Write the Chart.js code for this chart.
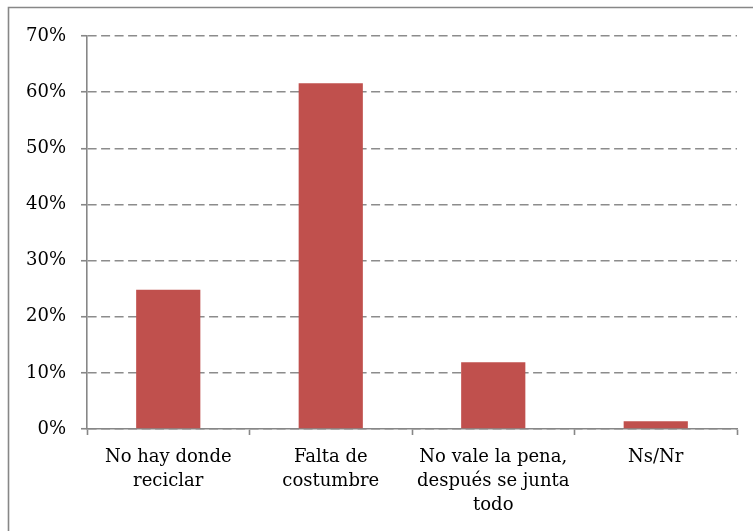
<!DOCTYPE html>
<html>
<head>
<meta charset="utf-8">
<script src="https://cdn.jsdelivr.net/npm/chart.js@4/dist/chart.umd.min.js"></script>
<style>
html,body{margin:0;padding:0;background:#fff;}
canvas{display:block;}
</style>
</head>
<body>
<canvas id="c" width="753" height="531"></canvas>
<script>
const categories = [
  ["No hay donde", "reciclar"],
  ["Falta de", "costumbre"],
  ["No vale la pena,", "después se junta", "todo"],
  ["Ns/Nr"]
];
const values = [24.8, 61.6, 11.9, 1.4];
const yTicks = [0, 10, 20, 30, 40, 50, 60, 70];

const FONT = "'DejaVu Serif', serif";

const frame = {
  id: 'frame',
  beforeDraw(chart) {
    const ctx = chart.ctx;
    ctx.save();
    ctx.fillStyle = '#fff';
    ctx.fillRect(0, 0, chart.width, chart.height);
    ctx.strokeStyle = '#878787';
    ctx.lineWidth = 1.6;
    ctx.beginPath();
    ctx.moveTo(8.5, chart.height);
    ctx.lineTo(8.5, 7.5);
    ctx.lineTo(chart.width, 7.5);
    ctx.stroke();
    ctx.restore();
  }
};

new Chart(document.getElementById('c'), {
  type: 'bar',
  data: {
    labels: categories,
    datasets: [{
      data: values,
      backgroundColor: '#C0504D',
      borderWidth: 0,
      barPercentage: 0.395,
      categoryPercentage: 1
    }]
  },
  options: {
    responsive: false,
    animation: false,
    events: [],
    layout: { padding: { top: 36, right: 16, left: 0, bottom: 0 } },
    plugins: { legend: { display: false }, tooltip: { enabled: false } },
    scales: {
      x: {
        afterFit: s => { s.height = 102; },
        grid: {
          display: true, drawOnChartArea: false, drawTicks: true,
          tickLength: 6, tickColor: '#878787', tickWidth: 1.6, offset: true
        },
        border: { display: true, color: '#878787', width: 1.6 },
        ticks: {
          color: '#000', padding: 10, maxRotation: 0, autoSkip: false,
          font: { family: FONT, size: 18, lineHeight: 1.33 }
        }
      },
      y: {
        min: 0, max: 70,
        afterFit: s => { s.width = 87; },
        afterBuildTicks: s => { s.ticks = yTicks.map(v => ({ value: v })); },
        grid: {
          color: '#8c8c8c', lineWidth: 1.5, drawTicks: true,
          tickLength: 6, tickColor: '#878787', tickWidth: 1.6
        },
        border: { display: true, color: '#878787', width: 1.6, dash: [9, 4.5] },
        ticks: {
          color: '#000', padding: 15,
          font: { family: FONT, size: 18 },
          callback: v => v + '%'
        }
      }
    }
  },
  plugins: [frame]
});
</script>
</body>
</html>
